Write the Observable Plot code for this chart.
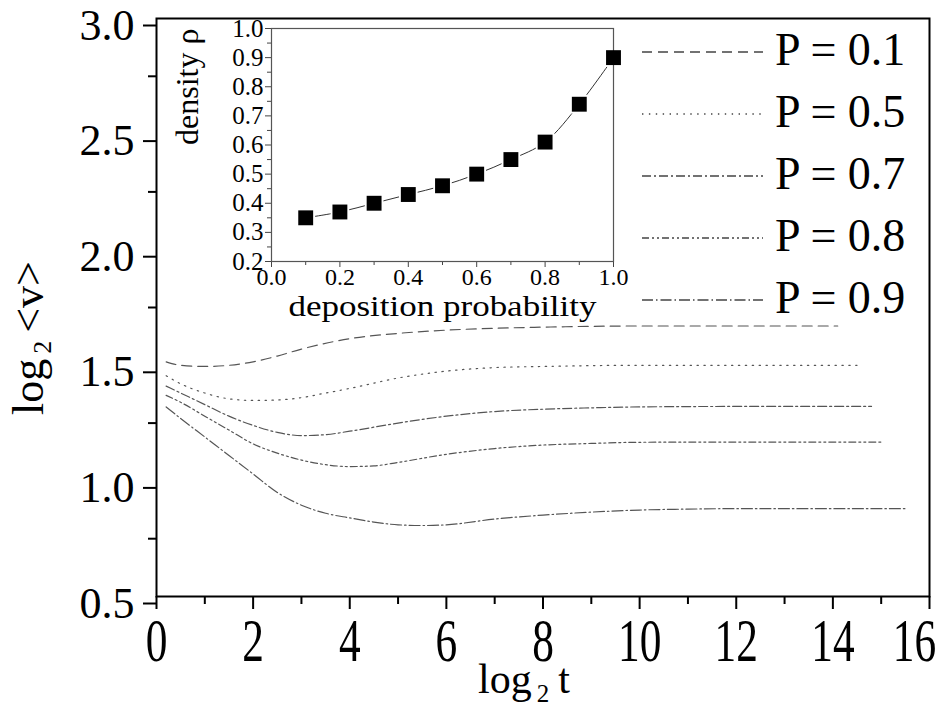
<!DOCTYPE html>
<html><head><meta charset="utf-8">
<script src="https://cdn.jsdelivr.net/npm/d3@7"></script>
<script src="https://cdn.jsdelivr.net/npm/@observablehq/plot@0.6"></script>
<style>
html,body{margin:0;padding:0;background:#fff;}
#wrap{position:relative;width:938px;height:709px;overflow:hidden;background:#fff;}
#wrap svg{position:absolute;}
#wrap svg, #wrap svg text{font-family:"Liberation Serif","Tinos","DejaVu Serif",serif !important;}
</style></head><body><div id="wrap"></div>
<script>
// ---------- main chart data ----------
const xTicks = [0,2,4,6,8,10,12,14,16];
const xMinorTicks = [1,3,5,7,9,11,13,15];
const yTicks = [0.5,1.0,1.5,2.0,2.5,3.0];
const yMinorTicks = [0.75,1.25,1.75,2.25,2.75];

const seriesNames = ["P = 0.1","P = 0.5","P = 0.7","P = 0.8","P = 0.9"];

const logT_p01 = [0.2,0.5,1,1.5,2,2.5,3,4,5,6,7,8,10,12,14.1];
const logV_p01 = [1.515,1.50,1.495,1.50,1.515,1.54,1.57,1.615,1.638,1.652,1.66,1.665,1.67,1.67,1.67];

const logT_p05 = [0.2,0.5,1,1.5,2,2.5,3,3.5,4,5,6,7,8,10,12,14.5];
const logV_p05 = [1.455,1.42,1.38,1.355,1.348,1.35,1.36,1.38,1.40,1.445,1.475,1.49,1.495,1.50,1.50,1.50];

const logT_p07 = [0.2,0.5,1,1.5,2,2.5,3,3.5,4,5,6,7,8,9,10,12,14.8];
const logV_p07 = [1.41,1.38,1.33,1.28,1.24,1.21,1.196,1.20,1.215,1.25,1.28,1.30,1.31,1.316,1.32,1.322,1.322];

const logT_p08 = [0.2,0.5,1,1.5,2,2.5,3,3.5,4,4.5,5,6,7,8,9,10,12,15];
const logV_p08 = [1.37,1.34,1.28,1.22,1.16,1.12,1.09,1.07,1.062,1.065,1.08,1.115,1.14,1.155,1.162,1.167,1.168,1.168];

const logT_p09 = [0.2,0.5,1,1.5,2,2.5,3,3.5,4,4.5,5,5.5,6,7,8,9,10,11,12,15.5];
const logV_p09 = [1.32,1.27,1.19,1.11,1.03,0.95,0.895,0.86,0.84,0.822,0.81,0.807,0.81,0.835,0.852,0.865,0.874,0.878,0.88,0.88];

const seriesT = [logT_p01,logT_p05,logT_p07,logT_p08,logT_p09];
const seriesV = [logV_p01,logV_p05,logV_p07,logV_p08,logV_p09];
const seriesDash = ["10,6","1.4,5.5","9,3,2,3","7,3,2,3,2,3","11,3,1.5,3"];

// ---------- inset data ----------
const depositionProb = [0.1,0.2,0.3,0.4,0.5,0.6,0.7,0.8,0.9,1.0];
const density = [0.35,0.37,0.40,0.43,0.46,0.50,0.55,0.61,0.74,0.90];
const insetXTicks = [0,0.2,0.4,0.6,0.8,1.0];
const insetXMinor = [0.1,0.3,0.5,0.7,0.9];
const insetYTicks = [0.2,0.3,0.4,0.5,0.6,0.7,0.8,0.9,1.0];
const insetYMinor = [0.25,0.35,0.45,0.55,0.65,0.75,0.85,0.95];

const FONT = '"Liberation Serif","Tinos","DejaVu Serif",serif';
const W = 938, H = 709;
const wrap = document.getElementById("wrap");

const curves = seriesNames.map((name, i) =>
  seriesT[i].map((t, j) => ({series: name, t, v: seriesV[i][j]})));

const main = Plot.plot({
  width: W, height: H,
  marginLeft: 156, marginRight: W - 929, marginTop: 18, marginBottom: H - 596,
  style: {fontFamily: FONT, color: "#000", background: "transparent", overflow: "visible"},
  x: {domain: [0, 16], label: null},
  y: {domain: [0.5, 3.0], label: null},
  marks: [
    ...curves.map((c, i) => Plot.line(c, {x: "t", y: "v", stroke: "#555", strokeWidth: 1.2,
      strokeDasharray: seriesDash[i], curve: "monotone-x"})),
    Plot.axisX(xMinorTicks, {anchor: "bottom", tickSize: 8, strokeWidth: 2, fill: "none", label: null}),
    Plot.axisX(xTicks, {anchor: "bottom", tickSize: 13, tickPadding: 7, strokeWidth: 2, fontSize: 62,
      tickFormat: d => String(d), label: null}),
    Plot.axisY(yMinorTicks, {anchor: "left", tickSize: 8, strokeWidth: 2, fill: "none", label: null}),
    Plot.axisY(yTicks, {anchor: "left", tickSize: 13, tickPadding: 9, strokeWidth: 2, fontSize: 44, dy: 7,
      tickFormat: d3.format(".1f"), label: null}),
    Plot.frame({stroke: "#000", strokeWidth: 2})
  ]
});
main.style.left = "0px"; main.style.top = "0px";
wrap.appendChild(main);

// narrow, tall x tick labels as in the reference; last label pulled inside the frame
const SX = 0.7;
const xLabels = d3.select(main).selectAll("g[aria-label^='x-axis tick label'] text");
const nX = xLabels.size();
xLabels.each(function(d, i) {
  const tr = this.getAttribute("transform");
  if (tr) {
    this.setAttribute("transform", tr + ` scale(${SX},1)`);
  } else {
    const x = +this.getAttribute("x") || 0;
    this.setAttribute("transform", `translate(${x},0) scale(${SX},1) translate(${-x},0)`);
  }
  if (i === nX - 1) this.setAttribute("dx", (-15 / SX).toFixed(1));
});

const ms = d3.select(main);
// y axis label: log2 <v>
const yl = ms.append("text")
  .attr("transform", "translate(43,338) rotate(-90)")
  .attr("text-anchor", "middle")
  .attr("font-size", 44).attr("fill", "#000");
yl.append("tspan").text("log");
yl.append("tspan").attr("font-size", 26).attr("dx", 5).attr("dy", 8).text("2");
yl.append("tspan").attr("dx", 8).attr("dy", -8).text("<v>");

// x axis label: log2 t
const xl = ms.append("text")
  .attr("x", 524).attr("y", 693)
  .attr("text-anchor", "middle")
  .attr("font-size", 42).attr("fill", "#000");
xl.append("tspan").text("log");
xl.append("tspan").attr("font-size", 25).attr("dx", 5).attr("dy", 9).text("2");
xl.append("tspan").attr("dx", 9).attr("dy", -9).text("t");

// legend
const lg = ms.append("g").attr("aria-label", "legend");
seriesNames.forEach((name, i) => {
  const base = 65 + i * 62;
  lg.append("line").attr("x1", 642).attr("x2", 763).attr("y1", base - 13).attr("y2", base - 13)
    .attr("stroke", "#444").attr("stroke-width", 1.3).attr("stroke-dasharray", seriesDash[i]);
  lg.append("text").attr("x", 775).attr("y", base).attr("text-anchor", "start")
    .attr("font-size", 46).attr("fill", "#000").text(name);
});

// ---------- inset ----------
const insetData = depositionProb.map((p, i) => ({p, rho: density[i]}));
const iL = 110, iT = 12, iW = 342, iH = 233;
const inset = Plot.plot({
  width: iL + iW + 20, height: iT + iH + 74,
  marginLeft: iL, marginRight: 20, marginTop: iT, marginBottom: 74,
  style: {fontFamily: FONT, color: "#000", background: "transparent", overflow: "visible"},
  x: {domain: [0, 1], label: null},
  y: {domain: [0.2, 1.0], label: null},
  marks: [
    Plot.axisX(insetXMinor, {anchor: "bottom", tickSize: 4, stroke: "#444", fill: "none", label: null}),
    Plot.axisX(insetXTicks, {anchor: "bottom", tickSize: 6, tickPadding: 0, stroke: "#444", fill: "#000",
      fontSize: 24, tickFormat: d3.format(".1f"), label: null}),
    Plot.axisY(insetYMinor, {anchor: "left", tickSize: 4, stroke: "#444", fill: "none", label: null}),
    Plot.axisY(insetYTicks, {anchor: "left", tickSize: 6, tickPadding: 2, stroke: "#444", fill: "#000",
      fontSize: 25, tickFormat: d3.format(".1f"), label: null}),
    Plot.line(insetData, {x: "p", y: "rho", curve: "catmull-rom", stroke: "#333", strokeWidth: 1}),
    Plot.dot(insetData, {x: "p", y: "rho", symbol: "square", r: 10.5, fill: "#fff", stroke: "none"}),
    Plot.frame({stroke: "#555", strokeWidth: 1.2}),
    Plot.dot(insetData, {x: "p", y: "rho", symbol: "square", r: 8.4, fill: "#000", stroke: "none"}),
    Plot.text(["density ρ"], {text: d => d, frameAnchor: "left", rotate: -90, dx: -84, fontSize: 32, fill: "#000"}),
    Plot.text(["deposition probability"], {text: d => d, frameAnchor: "bottom", dy: 54, fontSize: 30, fill: "#000"})
  ]
});
inset.style.left = (271 - iL) + "px";
inset.style.top = (28 - iT) + "px";
wrap.appendChild(inset);

// the reference's x-label of the inset is set wide
d3.select(inset).selectAll("text").filter(function() { return this.textContent === "deposition probability"; })
  .attr("textLength", 308).attr("lengthAdjust", "spacingAndGlyphs");
</script>
</body></html>
